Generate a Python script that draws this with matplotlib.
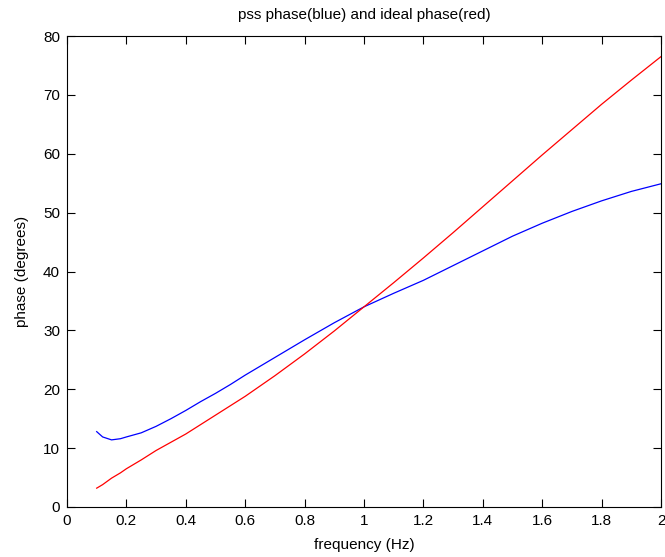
import matplotlib
matplotlib.use("Agg")
import matplotlib.pyplot as plt
from matplotlib.ticker import FixedLocator, FuncFormatter

plt.rcParams['font.family'] = ['Liberation Sans', 'DejaVu Sans']

freq = [0.10, 0.12, 0.15, 0.18, 0.20, 0.25, 0.30, 0.35, 0.40, 0.45, 0.50, 0.55, 0.60,
        0.70, 0.80, 0.90, 1.00, 1.10, 1.20, 1.30, 1.40, 1.50, 1.60, 1.70, 1.80, 1.90, 2.00]
pss_phase = [12.8, 11.9, 11.4, 11.6, 11.9, 12.6, 13.7, 15.0, 16.4, 17.9, 19.3, 20.8, 22.4,
             25.4, 28.4, 31.3, 34.0, 36.3, 38.5, 41.0, 43.5, 46.0, 48.2, 50.2, 52.0, 53.6, 54.9]
ideal_phase = [3.2, 3.8, 4.9, 5.8, 6.5, 8.0, 9.6, 11.0, 12.4, 14.0, 15.6, 17.2, 18.8,
               22.3, 26.0, 29.9, 34.0, 38.1, 42.3, 46.6, 51.0, 55.4, 59.8, 64.1, 68.4, 72.5, 76.5]

x_ticks = [0, 0.2, 0.4, 0.6, 0.8, 1.0, 1.2, 1.4, 1.6, 1.8, 2.0]
y_ticks = [0, 10, 20, 30, 40, 50, 60, 70, 80]

fig = plt.figure(figsize=(6.65, 5.57), dpi=100)
ax = fig.add_axes([67/665, 1 - 507/557, (661-67)/665, (507-36)/557])

ax.plot(freq, pss_phase, color='#0000ff', linewidth=0.9)
ax.plot(freq, ideal_phase, color='#ff0000', linewidth=0.9)

ax.set_xlim(0, 2)
ax.set_ylim(0, 80)
ax.xaxis.set_major_locator(FixedLocator(x_ticks))
ax.yaxis.set_major_locator(FixedLocator(y_ticks))
ax.xaxis.set_major_formatter(FuncFormatter(lambda v, p: ('%g' % round(v, 2))))
ax.yaxis.set_major_formatter(FuncFormatter(lambda v, p: ('%g' % v)))
ax.tick_params(direction='in', top=True, right=True, length=6, width=0.8,
               labelsize=11, pad=5)
for s in ax.spines.values():
    s.set_linewidth(0.8)

ax.set_xlabel('frequency (Hz)', fontsize=11, labelpad=7)
ax.set_ylabel('phase (degrees)', fontsize=11, labelpad=10)
ax.set_title('pss phase(blue) and ideal phase(red)', fontsize=11, pad=12)

fig.savefig('out.png', dpi=100)
